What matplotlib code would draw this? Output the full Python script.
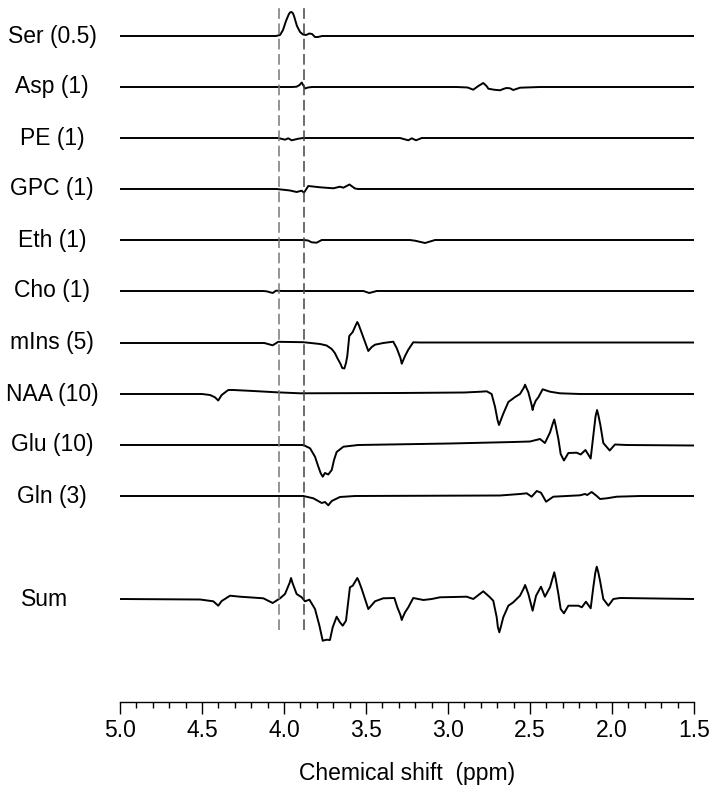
import numpy as np
import matplotlib
matplotlib.use("Agg")
import matplotlib.pyplot as plt
from matplotlib.ticker import MultipleLocator

plt.rcParams['font.family'] = ['Liberation Sans', 'DejaVu Sans']

# metabolite names with their scale factors
labels = ['Ser (0.5)', 'Asp (1)', 'PE (1)', 'GPC (1)', 'Eth (1)', 'Cho (1)',
          'mIns (5)', 'NAA (10)', 'Glu (10)', 'Gln (3)', 'Sum']

# each trace: chemical shift (ppm) and signal (arbitrary units)
ser_ppm = [5.0, 4.049, 4.024, 4.006, 3.988, 3.970, 3.962, 3.954, 3.946, 3.939, 3.921, 3.902,
           3.884, 3.866, 3.845, 3.829, 3.811, 3.793, 3.768, 1.5]
ser_val = [0, 0, 1, 6, 15, 22, 23.7, 24, 22.8, 20, 10, 4,
           1.5, 1, 2.5, 2, -1, -1, 0, 0]

asp_ppm = [5.0, 3.95, 3.923, 3.905, 3.892, 3.880, 3.872, 3.854, 3.829, 2.947, 2.88, 2.846,
           2.815, 2.785, 2.765, 2.754, 2.72, 2.683, 2.655, 2.642, 2.622, 2.602, 2.561, 2.439, 1.5]
asp_val = [0, 0, 0.3, 2, 4.5, 1, -1.5, -0.5, 0, 0, -0.5, -2.7,
           1, 4, 1, -1.7, -2.7, -3.3, -1.5, -1, -1.3, -3, -0.7, 0, 0]

pe_ppm = [5.0, 4.06, 4.035, 3.994, 3.974, 3.953, 3.915, 3.884, 3.293, 3.242, 3.221, 3.195, 3.160, 1.5]
pe_val = [0, 0, 0, -1.7, -0.3, -2.3, -0.8, 0, 0, -2.3, -0.3, -2.3, 0, 0]

gpc_ppm = [5.0, 4.045, 3.963, 3.923, 3.892, 3.878, 3.852, 3.780, 3.699, 3.659, 3.638,
           3.601, 3.567, 3.547, 1.5]
gpc_val = [0, 0, -1.5, -3, -1.7, -3.7, 3, 1.7, 0.7, 2.3, 1.3, 4.5, 0.5, 0, 0]

eth_ppm = [5.0, 3.878, 3.854, 3.831, 3.801, 3.770, 3.232, 3.201, 3.140, 3.079, 1.5]
eth_val = [0, 0, -0.5, -2.3, -2.7, 0, 0, -0.7, -3, 0, 0]

cho_ppm = [5.0, 4.13, 4.106, 4.069, 4.049, 4.012, 3.516, 3.480, 3.435, 1.5]
cho_val = [0, 0, -0.3, -2, 0.3, 0, 0, -2, 0, 0]

mins_ppm = [5.0, 4.12, 4.069, 4.035, 3.96, 3.882, 3.780, 3.740, 3.709, 3.690, 3.675, 3.655,
            3.645, 3.632, 3.622, 3.614, 3.602, 3.581, 3.562, 3.553, 3.544, 3.526, 3.486,
            3.465, 3.445, 3.395, 3.334, 3.313, 3.290, 3.282, 3.275, 3.262, 3.242, 3.212,
            3.171, 1.5]
mins_val = [0, 0, -2.3, 1.2, 1, 0.8, -1, -2.5, -6, -10, -15, -21,
            -25, -25.5, -20, -13, 7, 11, 18, 21, 18, 10, -8,
            -4, -1.7, 0, 1.3, -5, -15, -20.7, -18, -13, -6.7, 0.7,
            0.5, 0.5]

naa_ppm = [5.0, 4.50, 4.451, 4.421, 4.401, 4.380, 4.340, 4.309, 4.187, 4.045, 3.902, 3.3,
           2.9, 2.80, 2.764, 2.734, 2.713, 2.698, 2.689, 2.680, 2.663, 2.632, 2.591, 2.561,
           2.537, 2.530, 2.523, 2.510, 2.490, 2.484, 2.478, 2.465, 2.449, 2.423, 2.378,
           2.317, 2.195, 1.5]
naa_val = [0, 0, -1, -3.3, -6.5, -1, 4, 4, 3, 1.7, 0.7, 1,
           1.5, 2.3, 2.7, 0, -13, -26, -31, -27, -19.7, -8, -3, 0,
           6.5, 9.3, 6.5, 1.7, -11, -16, -12, -6.7, -3.3, 4.7, 2.3,
           0.7, 0, 0]

glu_ppm = [5.0, 3.95, 3.882, 3.841, 3.811, 3.790, 3.776, 3.764, 3.750, 3.730, 3.709, 3.695,
           3.679, 3.638, 3.547, 2.988, 2.6, 2.500, 2.439, 2.409, 2.378, 2.362, 2.352, 2.343,
           2.327, 2.313, 2.293, 2.266, 2.215, 2.191, 2.162, 2.130, 2.110, 2.100, 2.091, 2.082,
           2.071, 2.053, 2.014, 1.982, 1.910, 1.5]
glu_val = [0, 0, 0, -3.3, -11.7, -22, -28.3, -31.7, -28, -29.5, -25, -15,
           -7, -1.7, 0, 1.5, 3, 3.5, 6, 2, 12.5, 21, 25.5, 19,
           6, -9, -15.5, -8, -7.7, -9.5, -5, -13.5, 15, 29, 35, 29,
           20, 2, -5.5, 0.5, 0, -0.5]

gln_ppm = [5.0, 3.95, 3.882, 3.821, 3.770, 3.750, 3.730, 3.709, 3.659, 3.567, 2.683, 2.561,
           2.520, 2.490, 2.459, 2.433, 2.402, 2.358, 2.195, 2.165, 2.151, 2.124, 2.093, 2.073,
           2.032, 1.971, 1.829, 1.5]
gln_val = [0, 0, 0, -2.3, -7, -6, -9.3, -5, -1, 0, 0.5, 2,
           2.7, -0.7, 5, 3.3, -5.7, -0.7, 0.7, 2, 1, 4, 0, -3,
           -2.3, -0.7, 0, 0]

sum_ppm = [5.0, 4.512, 4.431, 4.401, 4.380, 4.329, 4.268, 4.126, 4.069, 4.024, 3.994, 3.966,
           3.957, 3.948, 3.923, 3.892, 3.872, 3.845, 3.811, 3.784, 3.764, 3.740, 3.720, 3.703,
           3.679, 3.659, 3.642, 3.622, 3.598, 3.581, 3.562, 3.553, 3.544, 3.526, 3.486, 3.445,
           3.395, 3.327, 3.309, 3.290, 3.282, 3.275, 3.262, 3.242, 3.212, 3.150, 3.099, 3.049,
           2.886, 2.846, 2.785, 2.748, 2.724, 2.703, 2.696, 2.687, 2.678, 2.663, 2.632, 2.602,
           2.561, 2.537, 2.530, 2.523, 2.510, 2.484, 2.463, 2.433, 2.409, 2.378, 2.362, 2.352,
           2.343, 2.327, 2.313, 2.293, 2.266, 2.205, 2.184, 2.159, 2.130, 2.114, 2.102, 2.093,
           2.084, 2.073, 2.053, 2.022, 1.992, 1.951, 1.5]
sum_val = [0, -0.5, -2.3, -6.7, -2, 3.3, 2.3, 0.7, -4, 0.7, 5, 16,
           21, 16, 5, 1.7, -2.3, -0.7, -10, -26.7, -41.7, -40.7, -41, -28.3,
           -17.7, -23.3, -26.7, -21.7, 11.7, 13.3, 18.5, 21, 18, 10, -10, -2.3,
           0.7, 1, -8.3, -16, -21, -18, -13.3, -8.3, 1, -1, 0, 1.7,
           2.3, 0, 7.7, 2.3, -1.7, -18.3, -28, -33.3, -28, -18.3, -6.7, -3.3,
           3.3, 11, 14, 11, 5, -11.7, 3.3, 12.3, 2.3, 11.7, 21, 26.7,
           20, 5, -10, -14.3, -6.7, -6.7, -8.3, -2.7, -9.3, 11.7, 26, 32.3,
           27, 18.3, 0, -6.7, 0, 1, 0]

traces = [(ser_ppm, ser_val), (asp_ppm, asp_val), (pe_ppm, pe_val), (gpc_ppm, gpc_val),
          (eth_ppm, eth_val), (cho_ppm, cho_val), (mins_ppm, mins_val), (naa_ppm, naa_val),
          (glu_ppm, glu_val), (gln_ppm, gln_val), (sum_ppm, sum_val)]

# marked region (ppm)
region = [4.03, 3.875]

# layout: baseline of each trace, measured down from the top of the figure (px)
rows = [36, 87, 138, 189, 240, 291, 343, 394, 445, 496, 599]

W, H = 714, 797
fig = plt.figure(figsize=(W / 100, H / 100), dpi=100)
ax = fig.add_axes([120 / W, 95 / H, 574 / W, 702 / H])

for (ppm, val), row, name in zip(traces, rows, labels):
    ax.plot(ppm, np.array(val) - row, color='black', lw=1.4, solid_joinstyle='round')
    xc = 45 if name == 'Sum' else 52
    fig.text(xc / W, 1 - row / H, name, ha='center', va='center', fontsize=16.5)

ax.vlines(region, -630, -5, colors=['#777777', '#444444'], linestyles=(0, (7, 3)), lw=1.1)

ax.set_xlim(5.0, 1.5)
ax.set_ylim(-702, 0)
ax.set_xticks(np.arange(5.0, 1.49, -0.5))
ax.set_xticklabels([f'{t:.1f}' for t in np.arange(5.0, 1.49, -0.5)])
ax.xaxis.set_minor_locator(MultipleLocator(0.1))
ax.tick_params(axis='x', which='major', direction='out', length=8.5, width=1.0,
               labelsize=16.5, pad=4)
ax.tick_params(axis='x', which='minor', direction='out', length=4.3, width=1.0)
ax.set_yticks([])
for side in ['left', 'right', 'top']:
    ax.spines[side].set_visible(False)
ax.spines['bottom'].set_linewidth(1.0)
ax.set_xlabel('Chemical shift  (ppm)', fontsize=16.5, labelpad=14)

fig.savefig('out.png', dpi=100)
